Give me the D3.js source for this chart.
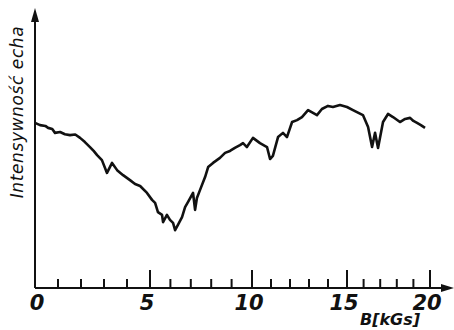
<!DOCTYPE html>
<html>
<head>
<meta charset="utf-8">
<script src="https://cdn.jsdelivr.net/npm/d3@7"></script>
<style>
  body { margin: 0; background: #fff; }
  svg { display: block; }
  text { font-family: "DejaVu Sans", sans-serif; font-style: italic; fill: #111; }
</style>
</head>
<body>
<svg width="454" height="330"></svg>
<script>
// field B [kGs] and echo intensity (arbitrary units)
const bField = [0, 0.22, 0.45, 0.57, 0.75, 0.87, 1.09, 1.3, 1.52, 1.75, 1.96, 2.17, 2.39, 2.55, 2.70, 2.91, 3.13, 3.35, 3.57, 3.83, 4.13, 4.35, 4.57, 4.87, 5.1, 5.25, 5.39, 5.59, 5.64, 5.83, 5.98, 6.13, 6.23, 6.37, 6.57, 6.72, 6.86, 7.11, 7.21, 7.30, 7.45, 7.70, 7.85, 8.09, 8.43, 8.68, 8.92, 9.16, 9.41, 9.56, 9.75, 10.05, 10.42, 10.79, 10.95, 11.1, 11.37, 11.63, 11.84, 12.11, 12.37, 12.63, 12.95, 13.21, 13.42, 13.68, 14.0, 14.26, 14.63, 15.0, 15.36, 15.96, 16.27, 16.51, 16.69, 16.87, 17.17, 17.47, 17.77, 18.19, 18.5, 18.80, 19.0, 19.22, 19.45, 19.70];
const intensity = [59.4, 58.6, 58.3, 57.6, 57.2, 55.8, 56.1, 55.3, 55.0, 55.2, 54.0, 52.5, 50.7, 49.3, 47.8, 46.0, 41.4, 45.0, 42.4, 40.6, 38.8, 37.4, 36.7, 34.2, 31.7, 30.6, 27.3, 26.3, 23.7, 26.3, 24.5, 23.4, 20.8, 22.7, 25.5, 29.1, 30.9, 34.2, 28.1, 32.4, 35.2, 39.9, 43.5, 45.0, 46.8, 48.6, 49.3, 50.4, 51.4, 52.1, 50.7, 54.0, 52.1, 50.7, 46.4, 47.5, 54.3, 55.8, 54.3, 59.7, 60.4, 61.5, 64.0, 63.0, 62.2, 64.4, 65.5, 65.1, 65.8, 65.1, 64.0, 62.2, 57.9, 50.7, 55.8, 50.4, 59.7, 62.6, 61.5, 59.7, 60.8, 61.2, 60.1, 59.4, 58.6, 57.6];
const xTicks = [0, 5, 10, 15, 20];

const svg = d3.select("svg");

// the scanned axis is not quite linear, so use a piecewise scale
const x = d3.scaleLinear().domain(xTicks).range([35, 150, 252, 347, 430]);
const y = d3.scaleLinear().domain([0, 100]).range([288, 10]);

const axisY = 288;

// axes
svg.append("line")
    .attr("x1", 35).attr("y1", axisY).attr("x2", 446).attr("y2", axisY)
    .attr("stroke", "#111").attr("stroke-width", 2);
svg.append("path")
    .attr("d", `M454,${axisY} L441,${axisY - 4} L441,${axisY + 4} Z`)
    .attr("fill", "#111");
svg.append("line")
    .attr("x1", 35).attr("y1", axisY).attr("x2", 35).attr("y2", 18)
    .attr("stroke", "#111").attr("stroke-width", 2);
svg.append("path")
    .attr("d", "M35,8 L31,22 L39,22 Z")
    .attr("fill", "#111");

// ticks pointing up, long ones at every 5 kGs
svg.selectAll(".tick")
    .data(d3.range(1, 21))
    .enter().append("line")
    .attr("class", "tick")
    .attr("x1", d => x(d)).attr("x2", d => x(d))
    .attr("y1", axisY)
    .attr("y2", d => d % 5 === 0 ? axisY - 18 : axisY - 9)
    .attr("stroke", "#111").attr("stroke-width", 2);

svg.selectAll(".tlab")
    .data(xTicks)
    .enter().append("text")
    .attr("class", "tlab")
    .attr("x", d => x(d) + (d === 0 ? 2 : -3))
    .attr("y", 310)
    .attr("text-anchor", "middle")
    .attr("font-size", 21)
    .attr("font-weight", "bold")
    .text(d => d);

svg.append("text")
    .attr("x", 390).attr("y", 325)
    .attr("text-anchor", "middle")
    .attr("font-size", 16)
    .attr("font-weight", "bold")
    .text("B[kGs]");

svg.append("text")
    .attr("transform", "translate(23,112) rotate(-90)")
    .attr("text-anchor", "middle")
    .attr("font-size", 17)
    .attr("letter-spacing", 0.6)
    .text("Intensywność echa");

// trace
const line = d3.line()
    .x((d, i) => x(bField[i]))
    .y(d => y(d));

svg.append("path")
    .datum(intensity)
    .attr("d", line)
    .attr("fill", "none")
    .attr("stroke", "#111")
    .attr("stroke-width", 2.6)
    .attr("stroke-linejoin", "round");
</script>
</body>
</html>
